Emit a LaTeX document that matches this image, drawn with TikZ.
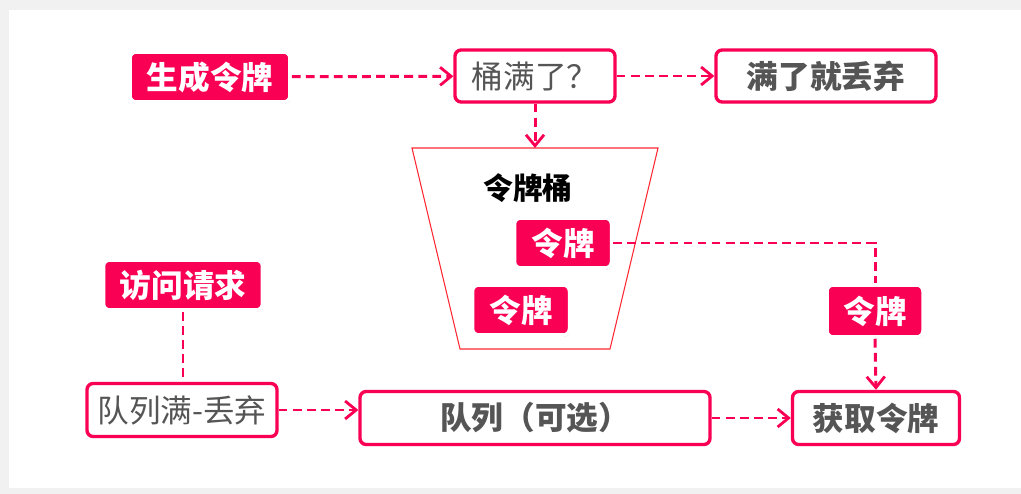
\documentclass[tikz,border=0pt]{standalone}
\usepackage{fontspec}
\setmainfont{Noto Sans CJK SC}
\usepackage{tikz}
\usetikzlibrary{arrows.meta, positioning, calc, shadows}
\definecolor{tokred}{RGB}{250,0,85}
\definecolor{bucketred}{RGB}{255,40,50}
\definecolor{txtgray}{RGB}{85,85,85}
\definecolor{bggray}{RGB}{241,241,241}
\tikzset{
  tokbox/.style={rectangle, draw=white, fill=tokred, text=white,
    font=\fontsize{18}{21}\selectfont\bfseries, rounded corners=3.5pt,
    line width=2pt, minimum height=1.0cm, inner sep=2pt,
    drop shadow={opacity=0.3, shadow xshift=0.6pt, shadow yshift=-0.9pt}},
  stepbox/.style={rectangle, draw=tokred, fill=white, text=txtgray,
    font=\fontsize{18}{21}\selectfont, rounded corners=3.5pt,
    line width=1.9pt, minimum height=1.04cm, inner sep=2pt,
    drop shadow={opacity=0.2, shadow xshift=0.6pt, shadow yshift=-0.9pt}},
  boldbox/.style={stepbox, font=\fontsize{18}{21}\selectfont\bfseries},
  flow/.style={draw=tokred, line width=1.7pt, dash pattern=on 5pt off 3pt},
  flowarrow/.style={flow, -{Straight Barb[length=2.2mm, width=3.6mm, line width=1.6pt]}}
}

\begin{document}
\begin{tikzpicture}
  % Page background and panel
  \fill[bggray] (0,0) rectangle (20.42,-9.88);
  \fill[white] (0.18,-0.2) rectangle (20.42,-9.76);
  \useasboundingbox (0,0) rectangle (20.42,-9.88);

  % Bucket
  \draw[bucketred, line width=0.6pt] (8.24,-2.96) -- (13.16,-2.96) -- (12.2,-6.98) -- (9.2,-6.98) -- cycle;
  \coordinate (bucketTop) at (10.7,-2.96);
  \node[font=\fontsize{17}{20}\selectfont\bfseries] (bucketLbl) at (10.56,-3.76) {令牌桶};

  % Top row
  \node[tokbox, minimum width=3.2cm] (gen) at (4.2,-1.54) {生成令牌};
  \node[stepbox, minimum width=3.2cm] (full) at (10.7,-1.52) {桶满了？};
  \node[boldbox, minimum width=4.4cm] (drop) at (16.52,-1.52) {满了就丢弃};

  % Tokens
  \node[tokbox, minimum width=1.94cm] (tokA) at (11.26,-4.86) {令牌};
  \node[tokbox, minimum width=1.94cm] (tokB) at (10.42,-6.2) {令牌};
  \node[tokbox, minimum width=1.92cm, minimum height=1.04cm] (tokC) at (17.5,-6.22) {令牌};

  % Request side
  \node[tokbox, minimum width=3.18cm] (req) at (3.66,-5.7) {访问请求};
  \node[stepbox, minimum width=3.8cm, minimum height=1.06cm] (qfull) at (3.64,-8.2) {队列满-丢弃};
  \node[boldbox, minimum width=7.0cm, minimum height=1.06cm] (queue) at (10.7,-8.36) {队列（可选）};
  \node[boldbox, minimum width=3.34cm, minimum height=1.06cm] (get) at (17.52,-8.36) {获取令牌};

  % Connections
  \draw[flowarrow] (gen) -- (full);
  \draw[flowarrow] (full) -- (drop);
  \draw[flowarrow] (full.south) -- (bucketTop);
  \draw[flow] (tokA.east) -| (tokC.north);
  \draw[flowarrow] (tokC.south) -- (get.north);
  \draw[flow] (req.south) -- (req.south |- qfull.north);
  \draw[flowarrow] (qfull.east) -- (queue.west |- qfull.east);
  \draw[flowarrow] (queue) -- (get);
\end{tikzpicture}
\end{document}
